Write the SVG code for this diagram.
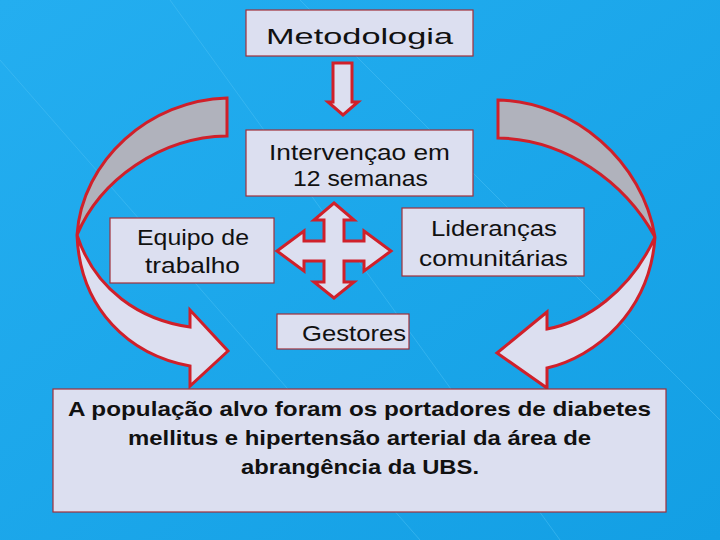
<svg xmlns="http://www.w3.org/2000/svg" width="720" height="540" viewBox="0 0 720 540">
<defs>
<linearGradient id="bg" x1="0" y1="0" x2="1" y2="1"><stop offset="0" stop-color="#24aef0"/><stop offset="1" stop-color="#139fe4"/></linearGradient>
</defs>
<style>
.box{fill:#dcdff0;stroke:#a0303a;stroke-width:1.2}
.t{font-family:"Liberation Sans",Arial,sans-serif;font-size:22px;fill:#111;text-anchor:middle}
.b{font-family:"Liberation Sans",Arial,sans-serif;font-size:21px;font-weight:bold;fill:#111;text-anchor:middle}
.arr{stroke:#d0202a;stroke-width:3;stroke-linejoin:miter}
.lt{fill:#dcdff0}.gr{fill:#b0b2bc}
</style>
<rect width="720" height="540" fill="url(#bg)"/>
<path d="M170,0 L560,540 M0,60 L420,540 M300,0 L720,420" stroke="#4cc0f4" stroke-width="1" opacity="0.5"/>
<g id="connectors">
<path class="arr lt" d="M333,63 H352 V102 H358 L343,115 L328,102 H333 Z"/>
<path class="arr lt" d="M334,203 L354,220 H344 V241 H364 V231 L391,251 L364,271 V261 H344 V282 H354 L334,298 L314,282 H324 V261 H304 V271 L277,251 L304,231 V241 H324 V220 H314 Z"/>
<g id="leftArrow">
<path class="arr gr" d="M227,98 C150,100 82,160 77,235 C100,180 160,137 227,136 Z"/>
<path class="arr lt" d="M77,235 C95,290 140,320 190,327 V310 L228,351 L190,386 V366 C130,355 80,310 77,235 Z"/>
</g>
<g id="rightArrow" transform="translate(725,2) scale(-1,1)">
<path class="arr gr" d="M227,98 C150,100 82,160 70,235 C100,180 160,137 227,136 Z"/>
<path class="arr lt" d="M70,235 C95,290 140,320 178,327 V310 L228,351 L178,386 V366 C130,355 75,310 70,235 Z"/>
</g>
</g>
<g id="metodologia"><rect class="box" x="246" y="10" width="227" height="46"/><text class="t" x="359.5" y="44" font-size="25" textLength="187" lengthAdjust="spacingAndGlyphs">Metodologia</text></g>
<g id="intervencao"><rect class="box" x="246" y="130" width="227" height="66"/><text class="t" x="359.5" y="160" textLength="181" lengthAdjust="spacingAndGlyphs">Intervençao  em</text><text class="t" x="360.5" y="186" textLength="135" lengthAdjust="spacingAndGlyphs">12 semanas</text></g>
<g id="equipo"><rect class="box" x="110" y="218" width="164" height="65"/><text class="t" x="193" y="245" textLength="112" lengthAdjust="spacingAndGlyphs">Equipo de</text><text class="t" x="192.5" y="273" textLength="95" lengthAdjust="spacingAndGlyphs">trabalho</text></g>
<g id="liderancas"><rect class="box" x="402" y="208" width="182" height="68"/><text class="t" x="494" y="236" textLength="126" lengthAdjust="spacingAndGlyphs">Lideranças</text><text class="t" x="493.5" y="266" textLength="149" lengthAdjust="spacingAndGlyphs">comunitárias</text></g>
<g id="gestores"><rect class="box" x="277" y="314" width="132" height="35"/><text class="t" x="354" y="341" textLength="104" lengthAdjust="spacingAndGlyphs">Gestores</text></g>
<g id="populacao"><rect class="box" x="53" y="389" width="613" height="123"/>
<text class="b" x="359.5" y="416" textLength="583" lengthAdjust="spacingAndGlyphs">A população alvo  foram os portadores de diabetes</text>
<text class="b" x="359.5" y="445" textLength="463" lengthAdjust="spacingAndGlyphs">mellitus e hipertensão arterial da área de</text>
<text class="b" x="360" y="474" textLength="238" lengthAdjust="spacingAndGlyphs">abrangência da UBS.</text></g>
</svg>
